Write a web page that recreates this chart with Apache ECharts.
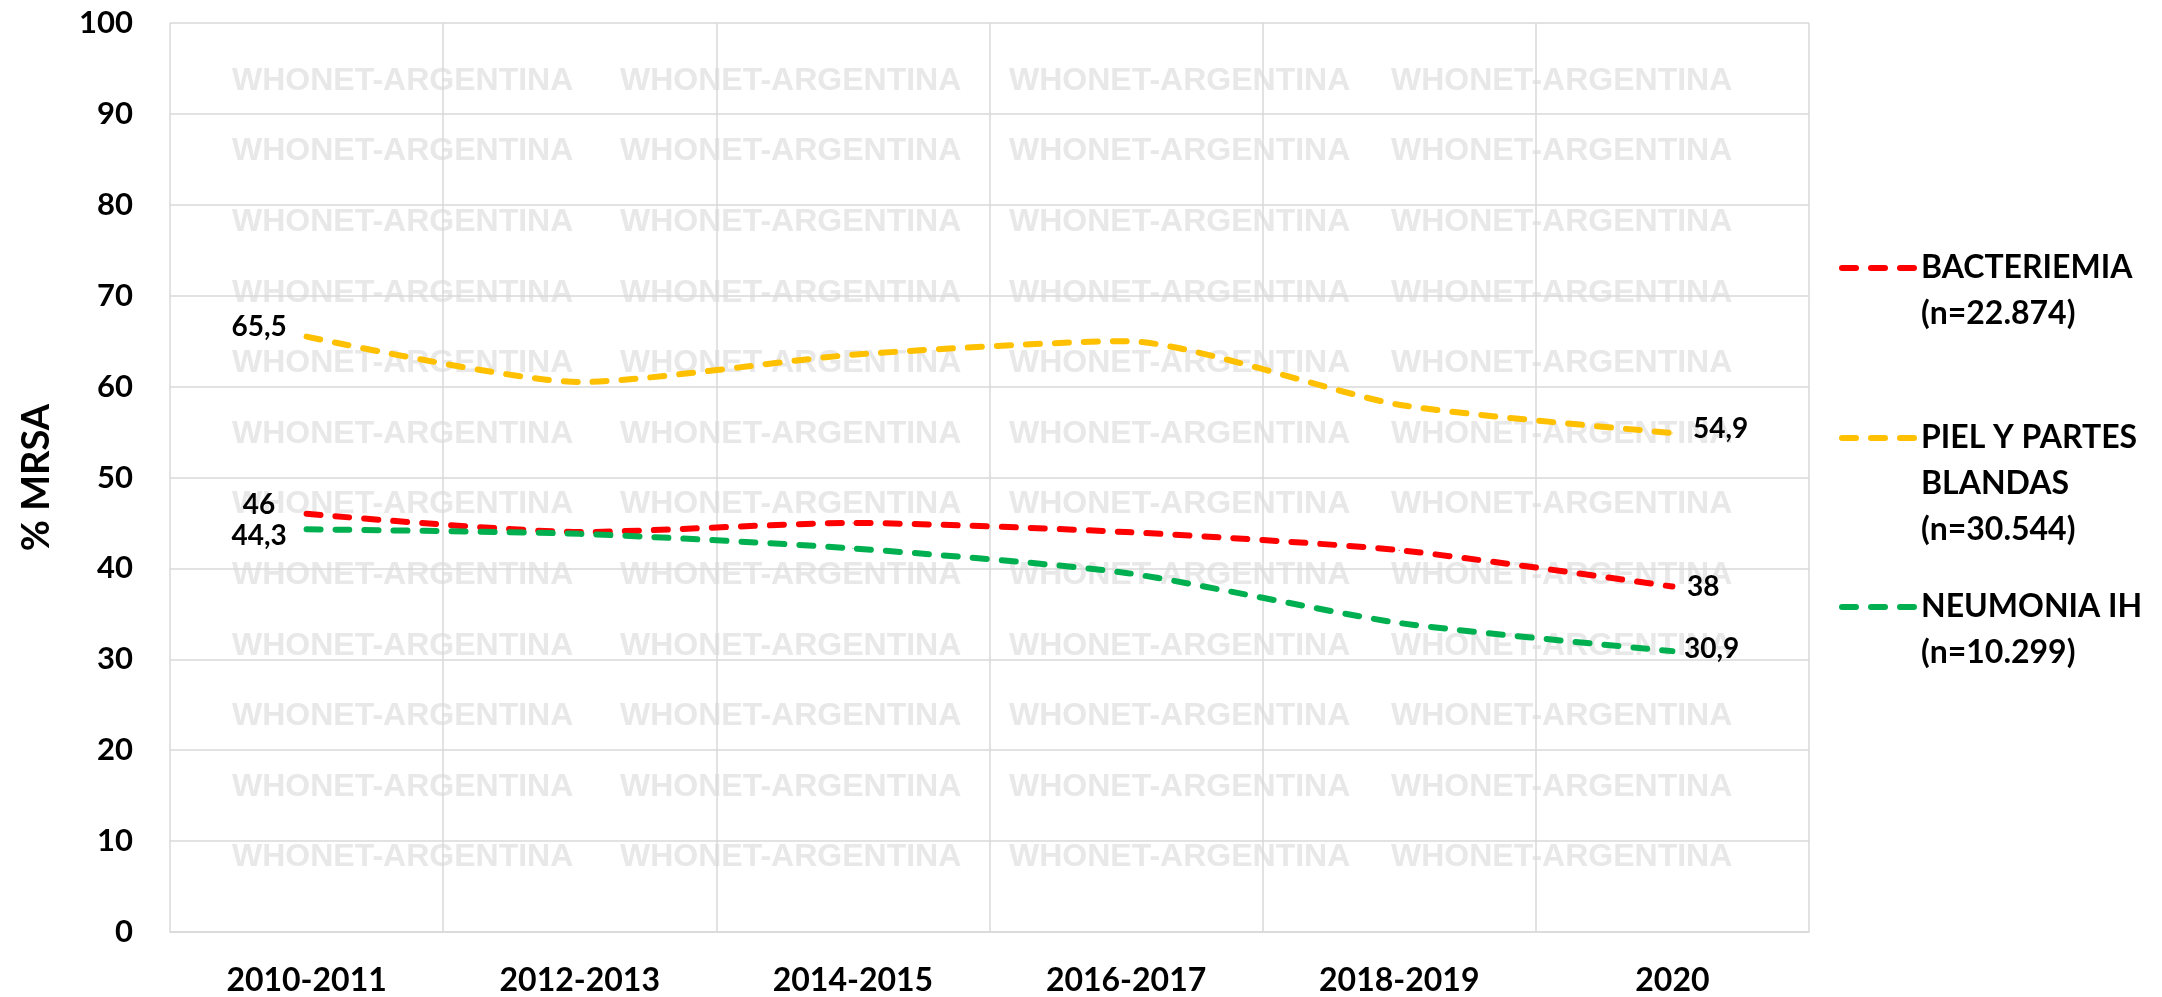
<!DOCTYPE html>
<html><head><meta charset="utf-8">
<script src="https://cdn.jsdelivr.net/npm/echarts@6/dist/echarts.min.js"></script>
<style>html,body{margin:0;padding:0;background:#fff}#chart{width:2162px;height:997px}</style>
</head><body><div id="chart"></div>
<script>
// ---- data ----
const categories = ['2010-2011', '2012-2013', '2014-2015', '2016-2017', '2018-2019', '2020'];
const bacteriemia = [46, 44, 45, 44, 42, 38];
const piel = [65.5, 60.5, 63.5, 65, 58, 54.9];
const neumonia = [44.3, 43.8, 42.2, 39.5, 34, 30.9];
const seriesNames = ['BACTERIEMIA\n(n=22.874)', 'PIEL Y PARTES\nBLANDAS\n(n=30.544)', 'NEUMONIA IH\n(n=10.299)'];
const yAxisTitle = '% MRSA';
const watermarkText = 'WHONET-ARGENTINA';

// ---- styling ----
const FONT = 'Lato';
const colors = ['#FF0000', '#FFC000', '#00B050'];
const gridColor = '#d9d9d9';
const fmt = p => String(p.value).replace('.', ',');

function buildData(values, firstLabel, lastLabel) {
  const last = values.length - 1;
  return values.map((v, i) => {
    if (i === 0) return { value: v, label: Object.assign({ show: true }, firstLabel) };
    if (i === last) return { value: v, label: Object.assign({ show: true }, lastLabel) };
    return v;
  });
}
const firstBase = { position: 'left', align: 'center', distance: 47 };
const lastBase = { position: 'right', align: 'left' };
const labelCfg = [
  [Object.assign({}, firstBase, { offset: [0, -9] }), Object.assign({}, lastBase, { distance: 14, offset: [0, 0] })],
  [Object.assign({}, firstBase, { offset: [0, -10] }), Object.assign({}, lastBase, { distance: 20, offset: [0, -4] })],
  [Object.assign({}, firstBase, { offset: [0, 7] }), Object.assign({}, lastBase, { distance: 11, offset: [0, -2] })]
];
const valueSets = [bacteriemia, piel, neumonia];
const dash = [14, 15];

const series = valueSets.map((vals, k) => ({
  name: seriesNames[k],
  type: 'line',
  smooth: 0.22,
  symbol: 'circle',
  symbolSize: 1,
  showSymbol: true,
  itemStyle: { color: colors[k] },
  lineStyle: { color: colors[k], width: 6, type: dash, cap: 'round' },
  label: { show: false, formatter: fmt, fontFamily: FONT, fontWeight: 'bold', fontSize: 28, color: '#000' },
  emphasis: { disabled: true },
  z: 3,
  data: buildData(vals, labelCfg[k][0], labelCfg[k][1])
}));

// legends: one per entry, icon aligned with first text line
const legendTops = [199, 323, 538];
const legends = seriesNames.map((n, i) => {
  const lines = n.split('\n').length;
  const lead = lines - 1;
  return {
    data: [n], left: 1839, top: legendTops[i], orient: 'vertical', padding: 0,
    itemWidth: 74, itemHeight: 14, selectedMode: false,
    formatter: name => '\n'.repeat(lead) + name,
    itemStyle: { opacity: 0 },
    lineStyle: { width: 6, type: dash, cap: 'round' },
    textStyle: { fontFamily: FONT, fontWeight: 'bold', fontSize: 32, lineHeight: 46, color: '#000' }
  };
});

// watermark (background text)
const wmX = [232, 620, 1009, 1391];
const wmElements = [];
for (let r = 0; r < 12; r++) {
  for (let c = 0; c < wmX.length; c++) {
    wmElements.push({
      type: 'text', left: wmX[c], top: 81 + 70.6 * r - 16, silent: true,
      style: { text: watermarkText, fill: '#e8e8e8', font: 'bold 32px "Liberation Sans"' }
    });
  }
}

const chart = echarts.init(document.getElementById('chart'), null, { renderer: 'canvas' });
chart.setOption({
  animation: false,
  backgroundColor: '#fff',
  grid: { left: 170, right: 353, top: 23, bottom: 64 },
  graphic: { elements: wmElements, z: -1 },
  legend: legends,
  xAxis: {
    type: 'category', data: categories, boundaryGap: true,
    axisLine: { lineStyle: { color: gridColor, width: 1.5 } },
    axisTick: { show: false },
    splitLine: { show: true, lineStyle: { color: gridColor, width: 1.5 } },
    axisLabel: { margin: 33, fontFamily: FONT, fontWeight: 'bold', fontSize: 32, color: '#000' }
  },
  yAxis: {
    type: 'value', min: 0, max: 100, interval: 10,
    name: yAxisTitle, nameLocation: 'middle', nameGap: 114,
    nameTextStyle: { fontFamily: FONT, fontWeight: 'bold', fontSize: 38, color: '#000' },
    axisLine: { show: false }, axisTick: { show: false },
    splitLine: { lineStyle: { color: gridColor, width: 1.5 } },
    axisLabel: { margin: 37, fontFamily: FONT, fontWeight: 'bold', fontSize: 31, color: '#000' }
  },
  series: series
});
</script></body></html>
